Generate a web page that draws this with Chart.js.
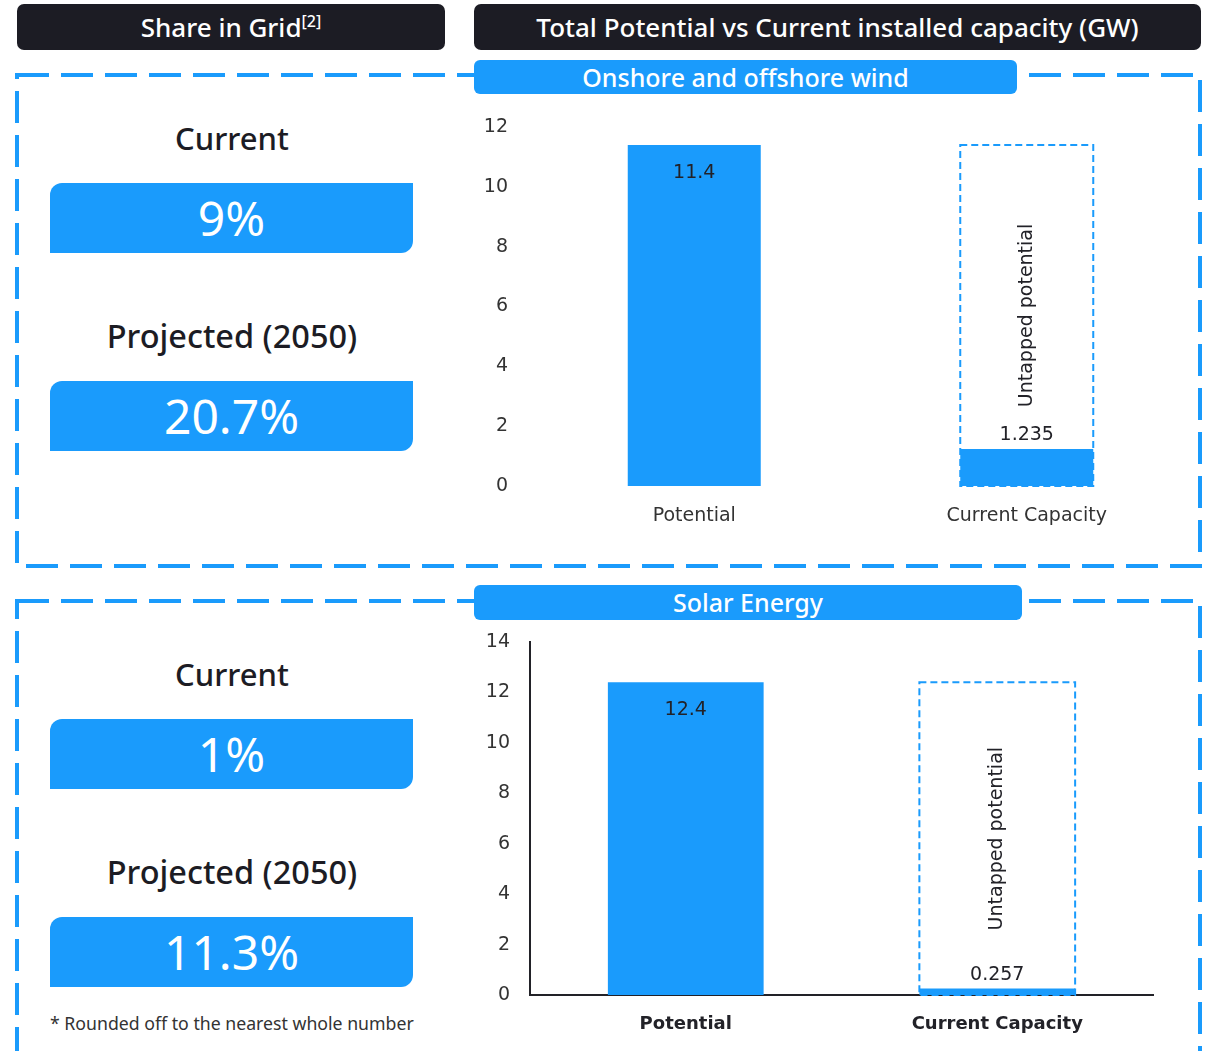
<!DOCTYPE html>
<html>
<head>
<meta charset="utf-8">
<script src="https://cdn.jsdelivr.net/npm/chart.js@4"></script>
<style>
  body { margin: 0; width: 1210px; height: 1051px; overflow: hidden; background: #fff; position: relative; font-family: "Noto Sans", sans-serif; }
  .abs { position: absolute; }
  .header { background: #1c1c24; color: #fff; border-radius: 7px; text-align: center; font-size: 26px; font-weight: 500; line-height: 46px; height: 46px; }
  .header sup { font-size: 16px; vertical-align: 10px; line-height: 0; }
  .pill { background: #1a9bfc; color: #fff; border-radius: 6px; text-align: center; font-size: 25px; font-weight: 500; }
  .label { width: 430px; left: 17px; text-align: center; font-size: 31px; font-weight: 500; color: #1c1c24; height: 40px; line-height: 40px; }
  .label.wide { font-size: 32.5px; }
  .share { left: 50px; width: 363px; height: 70px; line-height: 70px; background: #1a9bfc; color: #fff; text-align: center; font-size: 48px; border-radius: 12px 0 12px 0; }
  .note { left: 50px; top: 1011px; font-size: 17.7px; color: #333; }
</style>
</head>
<body>
<svg class="abs" style="left:0;top:0" width="1210" height="1051">
  <rect x="17" y="75" width="1183" height="491" fill="none" stroke="#1a9bfc" stroke-width="4" stroke-dasharray="32 12"/>
  <rect x="17" y="601" width="1183" height="520" fill="none" stroke="#1a9bfc" stroke-width="4" stroke-dasharray="32 12"/>
</svg>

<div class="abs header" style="left:17px;top:4px;width:428px">Share in Grid<sup>[2]</sup></div>
<div class="abs header" style="left:474px;top:4px;width:727px">Total Potential vs Current installed capacity (GW)</div>

<div class="abs pill" style="left:474px;top:60px;width:543px;height:34px;line-height:34px">Onshore and offshore wind</div>
<div class="abs pill" style="left:474px;top:585px;width:548px;height:35px;line-height:35px">Solar Energy</div>

<div id="left"></div>
<div class="abs note">* Rounded off to the nearest whole number</div>

<canvas id="chart-wind" class="abs" style="left:470px;top:105px" width="730" height="430"></canvas>
<canvas id="chart-solar" class="abs" style="left:470px;top:620px" width="730" height="431"></canvas>

<script>
  const categories = ["Potential", "Current Capacity"];
  const windGW = [11.4, 1.235];
  const solarGW = [12.4, 0.257];
  const windTicks = [0, 2, 4, 6, 8, 10, 12];
  const solarTicks = [0, 2, 4, 6, 8, 10, 12, 14];

  const shareLabels = ["Current", "Projected (2050)"];
  const windShare = ["9%", "20.7%"];
  const solarShare = ["1%", "11.3%"];

  const BLUE = "#1a9bfc";
  const INK = "#222228";

  // left column: share in grid blocks
  const left = document.getElementById("left");
  function addShares(shares, labelTops) {
    shares.forEach((value, i) => {
      const lbl = document.createElement("div");
      lbl.className = i === 0 ? "abs label" : "abs label wide";
      lbl.style.top = labelTops[i] + "px";
      lbl.textContent = shareLabels[i];
      left.appendChild(lbl);

      const box = document.createElement("div");
      box.className = "abs share";
      box.style.top = labelTops[i] + 65 + "px";
      box.textContent = value;
      left.appendChild(box);
    });
  }
  addShares(windShare, [118, 316]);
  addShares(solarShare, [654, 852]);

  // dashed outline + rotated caption for the untapped bar
  const untappedPlugin = {
    id: "untapped",
    afterDatasetsDraw(chart) {
      const ctx = chart.ctx;
      const meta = chart.getDatasetMeta(1);
      meta.data.forEach((bar, i) => {
        if (chart.data.datasets[1].data[i] == null) return;
        const { x, y, base, width } = bar.getProps(["x", "y", "base", "width"], true);
        ctx.save();
        ctx.strokeStyle = BLUE;
        ctx.lineWidth = 2;
        ctx.setLineDash([7, 4]);
        ctx.strokeRect(x - width / 2, y, width, base - y);
        ctx.setLineDash([]);
        ctx.translate(x, (y + base) / 2);
        ctx.rotate(-Math.PI / 2);
        ctx.fillStyle = INK;
        ctx.font = "19px 'DejaVu Sans'";
        ctx.textAlign = "center";
        ctx.textBaseline = "middle";
        ctx.fillText("Untapped potential", 0, 0);
        ctx.restore();
      });
    },
  };

  // value labels: inside the tall bar, above the short one
  const valuePlugin = {
    id: "values",
    afterDatasetsDraw(chart) {
      const ctx = chart.ctx;
      const ds = chart.data.datasets[0];
      chart.getDatasetMeta(0).data.forEach((bar, i) => {
        const { x, y } = bar.getProps(["x", "y"], true);
        ctx.save();
        ctx.fillStyle = INK;
        ctx.font = "19px 'DejaVu Sans'";
        ctx.textAlign = "center";
        if (i === 0) {
          ctx.textBaseline = "middle";
          ctx.fillText(String(ds.data[i]), x, y + 28);
        } else {
          ctx.textBaseline = "bottom";
          ctx.fillText(String(ds.data[i]), x, y - 4);
        }
        ctx.restore();
      });
    },
  };

  function makeChart(id, values, ticks, opts) {
    const ctx = document.getElementById(id).getContext("2d");
    return new Chart(ctx, {
      type: "bar",
      data: {
        labels: categories,
        datasets: [
          {
            label: "GW",
            data: values,
            backgroundColor: BLUE,
            borderWidth: 0,
            grouped: false,
            categoryPercentage: 1,
            barPercentage: opts.barPct,
            order: 1,
          },
          {
            label: "Untapped potential",
            data: [null, values[0]],
            backgroundColor: "rgba(0,0,0,0)",
            borderWidth: 0,
            grouped: false,
            categoryPercentage: 1,
            barPercentage: opts.barPct,
            order: 2,
          },
        ],
      },
      options: {
        responsive: false,
        animation: false,
        devicePixelRatio: 1,
        layout: { padding: { top: 22, right: opts.right, left: 0, bottom: 0 } },
        plugins: { legend: { display: false }, tooltip: { enabled: false } },
        scales: {
          x: {
            // tick marks are hidden with the grid; tickLength only spaces the labels
            grid: { display: false, drawTicks: true, tickLength: 19 },
            border: { display: opts.axes, color: INK, width: 2 },
            ticks: {
              padding: 0,
              color: opts.axes ? INK : "#333",
              font: { family: "'DejaVu Sans'", size: opts.axes ? 18 : 19, weight: opts.axes ? "bold" : "normal" },
            },
            afterFit: (s) => { s.height = opts.xh; },
          },
          y: {
            min: ticks[0],
            max: ticks[ticks.length - 1],
            grid: { display: false, drawTicks: true, tickLength: 20 },
            border: { display: opts.axes, color: INK, width: 2 },
            ticks: {
              stepSize: ticks[1] - ticks[0],
              padding: 0,
              color: "#333",
              font: { family: "'DejaVu Sans'", size: 19 },
            },
            afterFit: (s) => { s.width = opts.yw; },
          },
        },
      },
      plugins: [untappedPlugin, valuePlugin],
    });
  }

  makeChart("chart-wind", windGW, windTicks, { barPct: 0.4, right: 7, xh: 49, yw: 58, axes: false });
  makeChart("chart-solar", solarGW, solarTicks, { barPct: 0.5, right: 47, xh: 56, yw: 60, axes: true });
</script>
</body>
</html>
